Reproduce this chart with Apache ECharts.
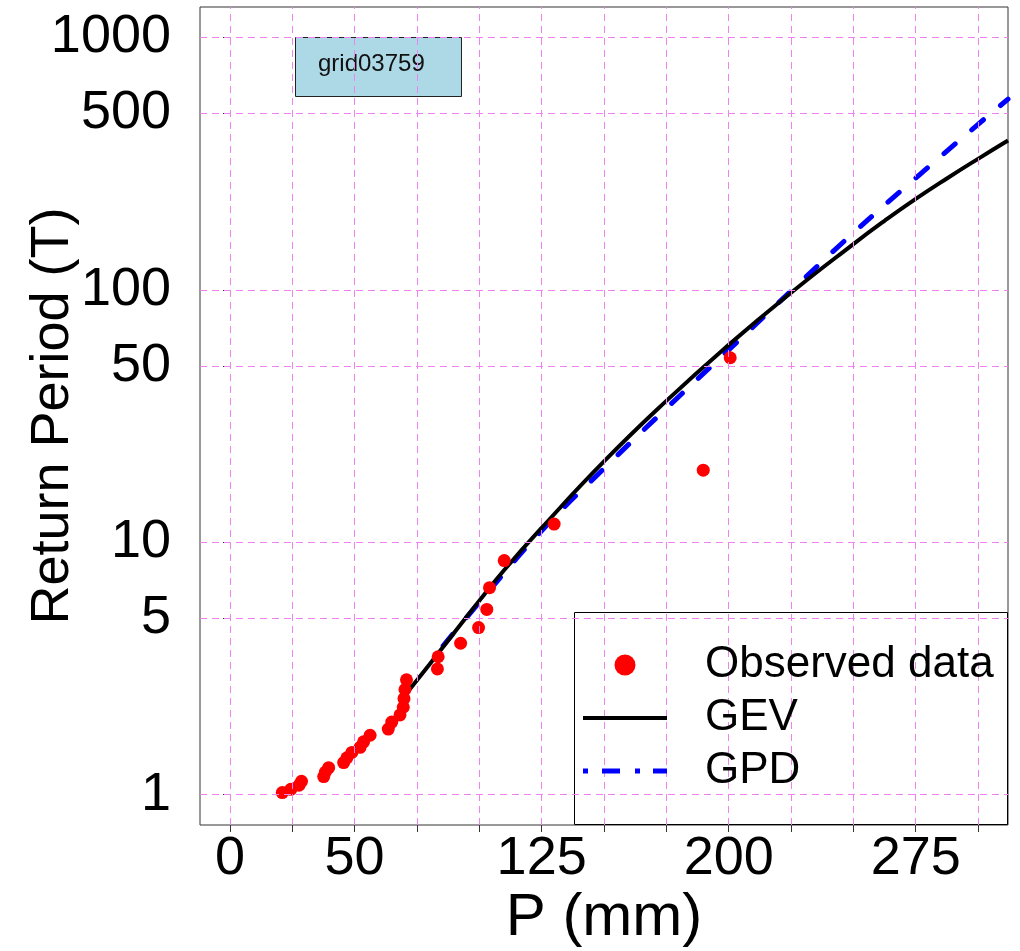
<!DOCTYPE html>
<html>
<head>
<meta charset="utf-8">
<script src="https://cdn.jsdelivr.net/npm/echarts@6/dist/echarts.min.js"></script>
<style>html,body{margin:0;padding:0;background:#fff}#c{width:1020px;height:951px}</style>
</head>
<body>
<div id="c"></div>
<script>
// ---- data ----
const stationName = 'grid03759';
const seriesNames = ['Observed data', 'GEV', 'GPD'];
const xTicks = [0, 25, 50, 75, 100, 125, 150, 175, 200, 225, 250, 275, 300];
const xLabels = [0, 50, 125, 200, 275];
const yTicks = [1, 5, 10, 50, 100, 500, 1000];

// observed precipitation (mm) and return period (T)
const obsP = [200.6, 189.8, 130.0, 110.0, 104.1, 103.0, 99.7, 92.5, 83.5, 83.2,
              70.8, 70.2, 69.8, 69.5, 68.2, 64.9, 63.5, 56.2, 53.6, 52.2,
              48.9, 46.9, 45.6, 39.6, 38.3, 37.6, 28.7, 27.7, 24.4, 21.0];
const obsT = [53.8, 19.3, 11.8, 8.46, 6.61, 5.42, 4.59, 3.98, 3.52, 3.15,
              2.85, 2.61, 2.40, 2.22, 2.07, 1.94, 1.82, 1.72, 1.62, 1.54,
              1.47, 1.40, 1.34, 1.28, 1.23, 1.18, 1.13, 1.09, 1.05, 1.02];

// GEV fitted curve
const gevP = [70.7, 80, 90, 100, 110, 125, 150, 175, 200, 225, 250, 262.5, 275, 287.5, 300, 312];
const gevT = [2.51, 3.28, 4.39, 5.86, 7.76, 11.4, 20.9, 36.3, 60.5, 97.3, 151.7, 187.5, 229.0, 276, 330, 390];

// GPD fitted curve
const gpdP = [85.5, 100, 125, 150, 175, 200, 225, 250, 275, 300, 308, 312];
const gpdT = [3.89, 5.78, 11.1, 19.6, 33.9, 57.8, 98.9, 168, 277, 452, 527, 569];

// ---- chart ----
const FONT = "'Liberation Sans', Arial, Helvetica, sans-serif";
const zip = (a, b) => a.map((v, i) => [v, b[i]]);
const gridStyle = { color: '#EE82EE', width: 1, type: [7, 5] };

const chart = echarts.init(document.getElementById('c'), null, { renderer: 'canvas' });
chart.setOption({
  animation: false,
  backgroundColor: '#fff',
  grid: { left: 200, right: 12, top: 7, bottom: 126, containLabel: false, outerBoundsMode: 'none',
          show: true, borderColor: '#333', borderWidth: 1 },
  xAxis: {
    type: 'value', min: -12, max: 312,
    axisLine: { show: false },
    axisTick: { show: true, length: 7, customValues: xTicks, lineStyle: { color: '#333' } },
    axisLabel: { customValues: xLabels, fontSize: 54, color: '#000', fontFamily: FONT, margin: 7 },
    splitLine: { show: false },
    name: 'P (mm)', nameLocation: 'middle', nameGap: 63, nameMoveOverlap: false,
    nameTextStyle: { fontSize: 60, color: '#000', fontFamily: FONT }
  },
  yAxis: {
    type: 'log', logBase: 10, min: 0.7586, max: 1318.26,
    axisLine: { show: false },
    axisTick: { show: true, length: 7, customValues: yTicks, lineStyle: { color: '#333' } },
    axisLabel: { customValues: yTicks, fontSize: 54, color: '#000', fontFamily: FONT, margin: 29,
                 formatter: v => String(Math.round(v)) },
    splitLine: { show: false },
    minorTick: { show: false }, minorSplitLine: { show: false },
    name: 'Return Period (T)', nameLocation: 'middle', nameGap: 120, nameMoveOverlap: false,
    nameTextStyle: { fontSize: 54, color: '#000', fontFamily: FONT }
  },
  legend: {
    orient: 'vertical', left: 583, top: 638.5, padding: 0, itemGap: 0,
    itemWidth: 84, itemHeight: 21, align: 'left', selectedMode: false, z: 10,
    textStyle: { fontSize: 44, lineHeight: 53, color: '#000', fontFamily: FONT, padding: [0, 0, 0, 33] },
    data: [
      { name: seriesNames[0], icon: 'circle', itemStyle: { opacity: 1 } },
      { name: seriesNames[1], icon: 'path://M0,0H84V4H0Z', itemStyle: { borderWidth: 0 } },
      { name: seriesNames[2], icon: 'path://M0,0H5V5H0Z M19,0H37V5H19Z M52,0H57V5H52Z M70,0H84V5H70Z', itemStyle: { borderWidth: 0 } }
    ]
  },
  graphic: [
    { type: 'rect', z: 3, shape: { x: 574.5, y: 612.5, width: 433, height: 212 },
      style: { fill: '#fff', stroke: '#000', lineWidth: 1 } },
    { type: 'rect', z: 3, shape: { x: 295.5, y: 37.5, width: 166, height: 59 },
      style: { fill: '#ADD8E6', stroke: '#222', lineWidth: 1 } },
    { type: 'text', z: 4, x: 318, y: 64,
      style: { text: stationName, fontSize: 24, fontFamily: FONT, fill: '#111', align: 'left', verticalAlign: 'middle' } }
  ],
  series: [
    { type: 'line', name: 'gridlines', data: [], z: 1, silent: true,
      markLine: {
        silent: true, symbol: ['none', 'none'], label: { show: false }, animation: false,
        lineStyle: gridStyle, emphasis: { disabled: true },
        data: xTicks.map(v => ({ xAxis: v })).concat(yTicks.map(v => ({ yAxis: v })))
      } },
    { type: 'scatter', name: seriesNames[0], data: zip(obsP, obsT), symbol: 'circle', symbolSize: 13,
      itemStyle: { color: '#FF0000', opacity: 1 }, z: 2 },
    { type: 'line', name: seriesNames[2], data: zip(gpdP, gpdT), symbol: 'none', showSymbol: false, smooth: 0.5,
      lineStyle: { color: '#0000FF', width: 5, type: [15, 22], cap: 'round' }, itemStyle: { color: '#0000FF' }, z: 2 },
    { type: 'line', name: seriesNames[1], data: zip(gevP, gevT), symbol: 'none', showSymbol: false, smooth: 0.5,
      lineStyle: { color: '#000000', width: 4 }, itemStyle: { color: '#000000' }, z: 2 }
  ]
});
</script>
</body>
</html>
